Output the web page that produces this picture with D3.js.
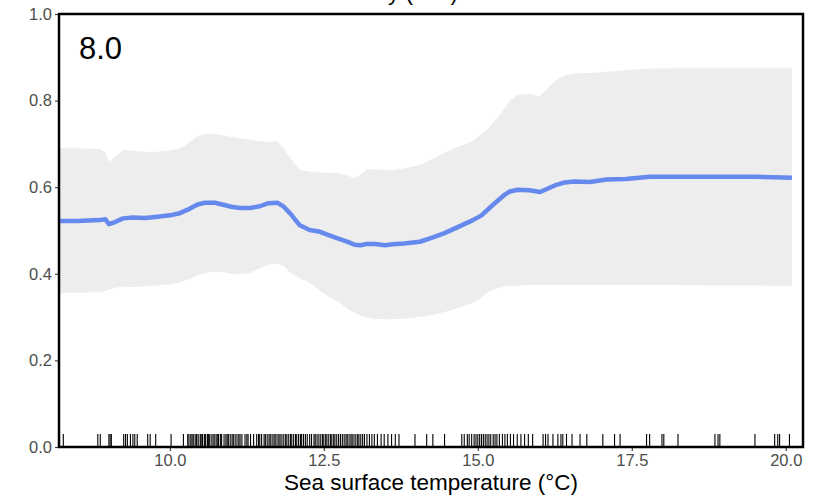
<!DOCTYPE html>
<html>
<head>
<meta charset="utf-8">
<script src="https://cdn.jsdelivr.net/npm/d3@7"></script>
<style>
  html, body { margin: 0; padding: 0; background: #fff; }
  svg { display: block; font-family: "Liberation Sans", Arial, sans-serif; }
</style>
</head>
<body>
<svg id="chart" width="825" height="498"></svg>
<script>
// ---- data ----
const panelLabel = "8.0";
const xTitle = "Sea surface temperature (°C)";
const topTitle = "Habitat suitability (HSI)";
const xTicks = [10.0, 12.5, 15.0, 17.5, 20.0];
const yTicks = [0.0, 0.2, 0.4, 0.6, 0.8, 1.0];

const sst = [8.20, 8.50, 8.86, 8.95, 9.01, 9.10, 9.24, 9.40, 9.60, 9.80, 10.00, 10.16, 10.32, 10.45, 10.57, 10.73, 10.85, 11.00, 11.14, 11.30, 11.46, 11.60, 11.75, 11.85, 11.95, 12.11, 12.27, 12.44, 12.60, 12.76, 12.90, 13.00, 13.10, 13.20, 13.33, 13.49, 13.62, 13.80, 14.06, 14.27, 14.46, 14.71, 14.92, 15.06, 15.19, 15.30, 15.44, 15.52, 15.65, 15.84, 16.01, 16.25, 16.41, 16.57, 16.82, 17.09, 17.40, 17.79, 18.20, 18.80, 19.50, 20.10];
const fitMean = [0.522, 0.522, 0.524, 0.526, 0.515, 0.519, 0.528, 0.530, 0.529, 0.532, 0.535, 0.540, 0.550, 0.560, 0.564, 0.564, 0.560, 0.555, 0.552, 0.552, 0.556, 0.563, 0.564, 0.555, 0.540, 0.512, 0.501, 0.497, 0.488, 0.480, 0.473, 0.467, 0.466, 0.469, 0.469, 0.466, 0.468, 0.470, 0.474, 0.484, 0.494, 0.510, 0.524, 0.535, 0.552, 0.566, 0.583, 0.590, 0.594, 0.593, 0.589, 0.604, 0.611, 0.613, 0.612, 0.618, 0.619, 0.624, 0.624, 0.624, 0.624, 0.622];
const fitUpper = [0.690, 0.690, 0.688, 0.680, 0.658, 0.668, 0.686, 0.684, 0.682, 0.682, 0.685, 0.689, 0.703, 0.718, 0.723, 0.722, 0.720, 0.716, 0.713, 0.709, 0.706, 0.705, 0.706, 0.690, 0.668, 0.640, 0.636, 0.634, 0.633, 0.632, 0.626, 0.621, 0.630, 0.642, 0.641, 0.640, 0.639, 0.643, 0.651, 0.665, 0.680, 0.695, 0.707, 0.723, 0.738, 0.757, 0.783, 0.800, 0.813, 0.815, 0.810, 0.845, 0.858, 0.863, 0.864, 0.866, 0.870, 0.874, 0.875, 0.875, 0.875, 0.875];
const fitLower = [0.356, 0.356, 0.358, 0.360, 0.364, 0.368, 0.370, 0.369, 0.371, 0.373, 0.376, 0.380, 0.388, 0.396, 0.402, 0.405, 0.404, 0.400, 0.399, 0.402, 0.412, 0.421, 0.424, 0.418, 0.403, 0.389, 0.380, 0.360, 0.345, 0.333, 0.318, 0.310, 0.303, 0.299, 0.296, 0.295, 0.295, 0.296, 0.301, 0.305, 0.312, 0.322, 0.333, 0.345, 0.360, 0.366, 0.371, 0.372, 0.373, 0.374, 0.374, 0.374, 0.374, 0.374, 0.374, 0.374, 0.374, 0.374, 0.374, 0.373, 0.373, 0.372];

const rugSST = [8.27, 8.83, 8.87, 9.01, 9.03, 9.05, 9.25, 9.28, 9.31, 9.36, 9.40, 9.43, 9.47, 9.64, 9.68, 9.77, 10.02, 10.22,
  10.29, 10.31, 10.34, 10.36, 10.38, 10.41, 10.43, 10.44, 10.47, 10.50, 10.52, 10.53, 10.56, 10.58, 10.61, 10.63, 10.64, 10.67, 10.70, 10.72, 10.75, 10.77, 10.79, 10.82, 10.84, 10.88, 10.91, 10.93, 10.95, 10.98,
  11.01, 11.03, 11.06, 11.09, 11.12, 11.14, 11.17, 11.22, 11.25, 11.27, 11.31, 11.36, 11.41, 11.44, 11.46, 11.49, 11.53, 11.55, 11.58, 11.61, 11.63, 11.66, 11.69, 11.71, 11.74, 11.77, 11.79, 11.82, 11.85, 11.88, 11.90, 11.93, 11.96, 11.98,
  12.01, 12.04, 12.06, 12.09, 12.12, 12.14, 12.17, 12.20, 12.23, 12.27, 12.30, 12.34, 12.36, 12.39, 12.42, 12.45, 12.48, 12.50, 12.53, 12.55, 12.58, 12.61, 12.63, 12.66, 12.68, 12.71, 12.74, 12.77, 12.80, 12.83, 12.86, 12.88, 12.91, 12.94, 12.96, 12.99,
  13.02, 13.05, 13.07, 13.10, 13.13, 13.16, 13.20, 13.24, 13.28, 13.32, 13.37, 13.43, 13.48, 13.54, 13.60, 13.66, 13.72, 13.98, 14.17, 14.27, 14.46,
  14.74, 14.78, 14.83, 14.86, 14.90, 14.94, 14.97, 15.00, 15.03, 15.06, 15.09, 15.12, 15.15, 15.18, 15.21, 15.25, 15.28, 15.31, 15.35, 15.40, 15.44, 15.48, 15.53, 15.58, 15.64, 15.70, 15.76, 15.82, 15.89, 16.10,
  16.06, 16.14, 16.22, 16.30, 16.35, 16.38, 16.44, 16.53, 16.66, 16.77, 17.03, 17.22, 17.31, 17.74, 17.79, 17.99, 18.02, 18.25, 18.85, 18.90, 18.93, 19.50, 19.82, 19.87, 19.90, 20.06];

// ---- layout ----
const svg = d3.select("#chart");
const padL = 59, padR = 803, padT = 14, padB = 447;

const x = d3.scaleLinear().domain([8.20, 20.28]).range([padL, padR]);
const y = d3.scaleLinear().domain([0, 1]).range([padB, padT]);

const fit = sst.map((t, i) => ({t, m: fitMean[i], lo: fitLower[i], hi: fitUpper[i]}));

// partially visible title at top (cut off by the top edge, as in the reference)
svg.append("text")
  .attr("x", 458).attr("y", -0.5)
  .attr("text-anchor", "end")
  .attr("font-size", 22.5)
  .attr("fill", "#000")
  .text(topTitle);

// ribbon
svg.append("path")
  .datum(fit)
  .attr("fill", "#ededed")
  .attr("d", d3.area().x(d => x(d.t)).y0(d => y(d.lo)).y1(d => y(d.hi)));

// mean line
svg.append("path")
  .datum(fit)
  .attr("fill", "none")
  .attr("stroke", "#6589ec")
  .attr("stroke-width", 4.5)
  .attr("stroke-linejoin", "round")
  .attr("d", d3.line().x(d => x(d.t)).y(d => y(d.m)));

// rug
svg.append("g").selectAll("line")
  .data(rugSST)
  .join("line")
  .attr("x1", d => x(d)).attr("x2", d => x(d))
  .attr("y1", padB - 13).attr("y2", padB)
  .attr("stroke", "#000")
  .attr("stroke-width", 1.1);

// axes
const xAxis = svg.append("g")
  .attr("transform", `translate(0,${padB})`)
  .call(d3.axisBottom(x).tickValues(xTicks).tickFormat(d3.format(".1f")).tickSize(4).tickPadding(3));
const yAxis = svg.append("g")
  .attr("transform", `translate(${padL},0)`)
  .call(d3.axisLeft(y).tickValues(yTicks).tickFormat(d3.format(".1f")).tickSize(4).tickPadding(3));

[xAxis, yAxis].forEach(g => {
  g.select(".domain").remove();
  g.selectAll(".tick line").attr("stroke", "#333").attr("stroke-width", 1.1);
  g.selectAll(".tick text")
    .attr("fill", "#4d4d4d")
    .attr("font-size", 16.5)
    .attr("font-family", "Liberation Sans, Arial, sans-serif");
});

// panel border
svg.append("rect")
  .attr("x", padL).attr("y", padT)
  .attr("width", padR - padL).attr("height", padB - padT)
  .attr("fill", "none")
  .attr("stroke", "#000")
  .attr("stroke-width", 2.5);

// panel label
svg.append("text")
  .attr("x", 79).attr("y", 59)
  .attr("font-size", 31)
  .attr("fill", "#000")
  .text(panelLabel);

// x title
svg.append("text")
  .attr("x", (padL + padR) / 2).attr("y", 490)
  .attr("text-anchor", "middle")
  .attr("font-size", 22.5)
  .attr("fill", "#000")
  .text(xTitle);
</script>
</body>
</html>
